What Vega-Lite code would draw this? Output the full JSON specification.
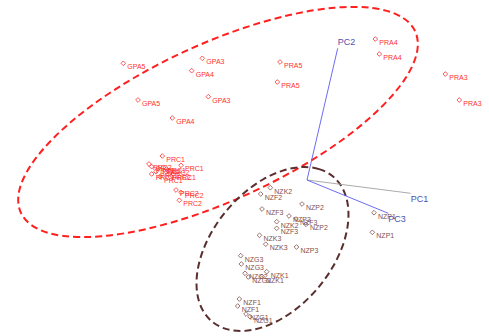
{
  "$schema": "https://vega.github.io/schema/vega-lite/v6.json",
  "width": 489,
  "height": 336,
  "autosize": {"type": "fit", "contains": "padding"},
  "padding": 0,
  "background": "white",
  "config": {"view": {"stroke": null}},
  "datasets": {
    "scores": [
      {"label": "GPA5", "group": "c1", "x": -3.674, "y": 2.334},
      {"label": "GPA3", "group": "c1", "x": -2.094, "y": 2.434},
      {"label": "GPA4", "group": "c1", "x": -2.306, "y": 2.186},
      {"label": "PRA5", "group": "c1", "x": -0.54, "y": 2.36},
      {"label": "PRA5", "group": "c1", "x": -0.594, "y": 1.96},
      {"label": "GPA5", "group": "c1", "x": -3.38, "y": 1.6},
      {"label": "GPA3", "group": "c1", "x": -1.974, "y": 1.666},
      {"label": "GPA4", "group": "c1", "x": -2.694, "y": 1.24},
      {"label": "PRA4", "group": "c1", "x": 1.366, "y": 2.82},
      {"label": "PRA4", "group": "c1", "x": 1.446, "y": 2.52},
      {"label": "PRA3", "group": "c1", "x": 2.766, "y": 2.12},
      {"label": "PRA3", "group": "c1", "x": 3.046, "y": 1.6},
      {"label": "PRC1", "group": "c1", "x": -2.894, "y": 0.48},
      {"label": "PRC1", "group": "c1", "x": -2.52, "y": 0.294},
      {"label": "PRC1", "group": "c1", "x": -2.674, "y": 0.12},
      {"label": "PRC2", "group": "c1", "x": -3.16, "y": 0.32},
      {"label": "PRC1", "group": "c1", "x": -3.106, "y": 0.266},
      {"label": "PRC2", "group": "c1", "x": -2.974, "y": 0.234},
      {"label": "PRC1", "group": "c1", "x": -2.874, "y": 0.254},
      {"label": "PRC2", "group": "c1", "x": -2.806, "y": 0.22},
      {"label": "PRC1", "group": "c1", "x": -3.106, "y": 0.12},
      {"label": "PRC2", "group": "c1", "x": -3.02, "y": 0.166},
      {"label": "PRC1", "group": "c1", "x": -2.94, "y": 0.066},
      {"label": "PRC2", "group": "c1", "x": -2.774, "y": 0.114},
      {"label": "PRC2", "group": "c1", "x": -2.62, "y": -0.2},
      {"label": "PRC2", "group": "c1", "x": -2.52, "y": -0.246},
      {"label": "PRC2", "group": "c1", "x": -2.554, "y": -0.406},
      {"label": "NZK2", "group": "c2", "x": -0.734, "y": -0.154},
      {"label": "NZF2", "group": "c2", "x": -0.926, "y": -0.28},
      {"label": "NZP2", "group": "c2", "x": -0.1, "y": -0.48},
      {"label": "NZF3", "group": "c2", "x": -0.9, "y": -0.58},
      {"label": "NZP3", "group": "c2", "x": -0.36, "y": -0.72},
      {"label": "NZF3", "group": "c2", "x": -0.22, "y": -0.78},
      {"label": "NZK2", "group": "c2", "x": -0.606, "y": -0.834},
      {"label": "NZP2", "group": "c2", "x": -0.02, "y": -0.886},
      {"label": "NZF3", "group": "c2", "x": -0.606, "y": -0.966},
      {"label": "NZK3", "group": "c2", "x": -0.95, "y": -1.106},
      {"label": "NZK3", "group": "c2", "x": -0.826, "y": -1.284},
      {"label": "NZP3", "group": "c2", "x": -0.21, "y": -1.34},
      {"label": "NZP1", "group": "c2", "x": 1.34, "y": -0.654},
      {"label": "NZP1", "group": "c2", "x": 1.306, "y": -1.046},
      {"label": "NZG3", "group": "c2", "x": -1.326, "y": -1.514},
      {"label": "NZG3", "group": "c2", "x": -1.314, "y": -1.68},
      {"label": "NZG2", "group": "c2", "x": -1.24, "y": -1.866},
      {"label": "NZG2", "group": "c2", "x": -1.174, "y": -1.94},
      {"label": "NZK1", "group": "c2", "x": -0.806, "y": -1.834},
      {"label": "NZK1", "group": "c2", "x": -0.9, "y": -1.93},
      {"label": "NZF1", "group": "c2", "x": -1.354, "y": -2.38},
      {"label": "NZF1", "group": "c2", "x": -1.386, "y": -2.52},
      {"label": "NZG1", "group": "c2", "x": -1.22, "y": -2.68},
      {"label": "NZG1", "group": "c2", "x": -1.14, "y": -2.734}
    ],
    "ellipses": [
      {"group": "c1", "order": 0, "x": 2.163, "y": 2.974},
      {"group": "c1", "order": 1, "x": 1.86, "y": 3.279},
      {"group": "c1", "order": 2, "x": 1.309, "y": 3.44},
      {"group": "c1", "order": 3, "x": 0.547, "y": 3.445},
      {"group": "c1", "order": 4, "x": -0.373, "y": 3.294},
      {"group": "c1", "order": 5, "x": -1.39, "y": 2.998},
      {"group": "c1", "order": 6, "x": -2.432, "y": 2.577},
      {"group": "c1", "order": 7, "x": -3.43, "y": 2.06},
      {"group": "c1", "order": 8, "x": -4.317, "y": 1.48},
      {"group": "c1", "order": 9, "x": -5.029, "y": 0.879},
      {"group": "c1", "order": 10, "x": -5.521, "y": 0.298},
      {"group": "c1", "order": 11, "x": -5.758, "y": -0.225},
      {"group": "c1", "order": 12, "x": -5.723, "y": -0.654},
      {"group": "c1", "order": 13, "x": -5.42, "y": -0.959},
      {"group": "c1", "order": 14, "x": -4.869, "y": -1.12},
      {"group": "c1", "order": 15, "x": -4.107, "y": -1.125},
      {"group": "c1", "order": 16, "x": -3.187, "y": -0.974},
      {"group": "c1", "order": 17, "x": -2.17, "y": -0.679},
      {"group": "c1", "order": 18, "x": -1.128, "y": -0.257},
      {"group": "c1", "order": 19, "x": -0.13, "y": 0.261},
      {"group": "c1", "order": 20, "x": 0.757, "y": 0.84},
      {"group": "c1", "order": 21, "x": 1.469, "y": 1.441},
      {"group": "c1", "order": 22, "x": 1.961, "y": 2.023},
      {"group": "c1", "order": 23, "x": 2.198, "y": 2.545},
      {"group": "c2", "order": 0, "x": 0.521, "y": 0.069},
      {"group": "c2", "order": 1, "x": 0.242, "y": 0.218},
      {"group": "c2", "order": 2, "x": -0.101, "y": 0.259},
      {"group": "c2", "order": 3, "x": -0.484, "y": 0.188},
      {"group": "c2", "order": 4, "x": -0.88, "y": 0.01},
      {"group": "c2", "order": 5, "x": -1.264, "y": -0.263},
      {"group": "c2", "order": 6, "x": -1.609, "y": -0.612},
      {"group": "c2", "order": 7, "x": -1.891, "y": -1.013},
      {"group": "c2", "order": 8, "x": -2.091, "y": -1.439},
      {"group": "c2", "order": 9, "x": -2.196, "y": -1.861},
      {"group": "c2", "order": 10, "x": -2.198, "y": -2.25},
      {"group": "c2", "order": 11, "x": -2.098, "y": -2.58},
      {"group": "c2", "order": 12, "x": -1.901, "y": -2.829},
      {"group": "c2", "order": 13, "x": -1.622, "y": -2.978},
      {"group": "c2", "order": 14, "x": -1.279, "y": -3.019},
      {"group": "c2", "order": 15, "x": -0.897, "y": -2.948},
      {"group": "c2", "order": 16, "x": -0.5, "y": -2.77},
      {"group": "c2", "order": 17, "x": -0.116, "y": -2.497},
      {"group": "c2", "order": 18, "x": 0.229, "y": -2.148},
      {"group": "c2", "order": 19, "x": 0.511, "y": -1.747},
      {"group": "c2", "order": 20, "x": 0.711, "y": -1.321},
      {"group": "c2", "order": 21, "x": 0.816, "y": -0.899},
      {"group": "c2", "order": 22, "x": 0.818, "y": -0.51},
      {"group": "c2", "order": 23, "x": 0.718, "y": -0.18}
    ],
    "loadings": [
      {"pc": "PC1", "x": 2.074, "y": -0.266, "x0": 0, "y0": 0},
      {"pc": "PC2", "x": 0.614, "y": 2.634, "x0": 0, "y0": 0},
      {"pc": "PC3", "x": 1.626, "y": -0.666, "x0": 0, "y0": 0}
    ]
  },
  "encoding": {
    "x": {"field": "x", "type": "quantitative", "scale": {"domain": [-6.14, 3.64], "nice": false, "zero": false}, "axis": null},
    "y": {"field": "y", "type": "quantitative", "scale": {"domain": [-3.12, 3.6], "nice": false, "zero": false}, "axis": null}
  },
  "layer": [
    {
      "data": {"name": "ellipses"},
      "transform": [{"filter": "datum.group === 'c1'"}],
      "mark": {"type": "line", "interpolate": "cardinal-closed", "color": "#ff1f1f", "strokeWidth": 2, "strokeDash": [7, 4]},
      "encoding": {"order": {"field": "order", "type": "quantitative"}}
    },
    {
      "data": {"name": "ellipses"},
      "transform": [{"filter": "datum.group === 'c2'"}],
      "mark": {"type": "line", "interpolate": "cardinal-closed", "color": "#5a2e2e", "strokeWidth": 2, "strokeDash": [7, 4]},
      "encoding": {"order": {"field": "order", "type": "quantitative"}}
    },
    {
      "data": {"name": "loadings"},
      "transform": [{"filter": "datum.pc === 'PC1'"}],
      "mark": {"type": "rule", "strokeWidth": 0.9, "color": "#a0a0a0"},
      "encoding": {"x2": {"field": "x0"}, "y2": {"field": "y0"}}
    },
    {
      "data": {"name": "loadings"},
      "transform": [{"filter": "datum.pc !== 'PC1'"}],
      "mark": {"type": "rule", "strokeWidth": 0.9, "color": "#5b5bf0"},
      "encoding": {"x2": {"field": "x0"}, "y2": {"field": "y0"}}
    },
    {
      "data": {"name": "loadings"},
      "transform": [{"filter": "datum.pc === 'PC2'"}],
      "mark": {"type": "text", "align": "left", "baseline": "bottom", "dy": -1, "fontSize": 9, "font": "Liberation Sans", "color": "#4f4fb0"},
      "encoding": {"text": {"field": "pc"}}
    },
    {
      "data": {"name": "loadings"},
      "transform": [{"filter": "datum.pc !== 'PC2'"}],
      "mark": {"type": "text", "align": "left", "baseline": "top", "dy": 2, "fontSize": 9, "font": "Liberation Sans", "color": "#4f4fb0"},
      "encoding": {"text": {"field": "pc"}}
    },
    {
      "data": {"name": "scores"},
      "mark": {"type": "point", "shape": "diamond", "filled": false, "size": 22, "strokeWidth": 0.8, "opacity": 1},
      "encoding": {
        "color": {"field": "group", "type": "nominal", "scale": {"domain": ["c1", "c2"], "range": ["#ff3030", "#84504f"]}, "legend": null}
      }
    },
    {
      "data": {"name": "scores"},
      "mark": {"type": "text", "align": "left", "baseline": "middle", "dx": 4, "dy": 4, "fontSize": 7, "font": "Liberation Sans"},
      "encoding": {
        "text": {"field": "label"},
        "color": {"field": "group", "type": "nominal", "scale": {"domain": ["c1", "c2"], "range": ["#ff3030", "#84504f"]}, "legend": null}
      }
    }
  ]
}
